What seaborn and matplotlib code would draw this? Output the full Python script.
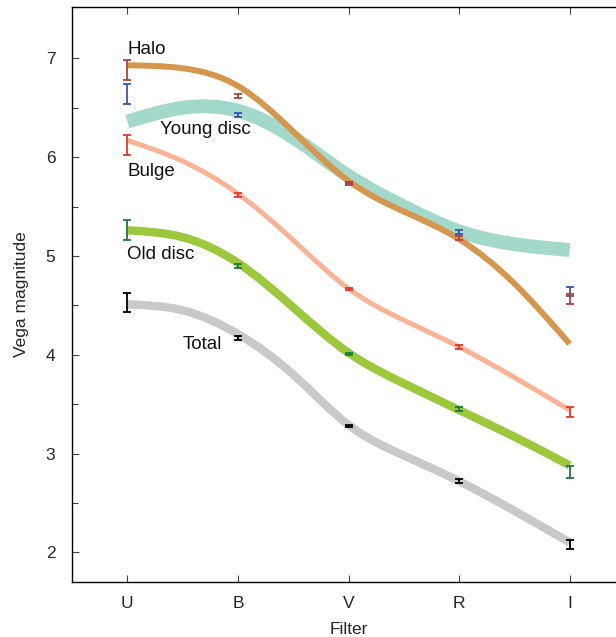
import numpy as np
import matplotlib
matplotlib.use("Agg")
import matplotlib.pyplot as plt
from matplotlib.path import Path
from matplotlib.patches import PathPatch
from matplotlib.ticker import FixedLocator
import seaborn as sns

# filters and positions
filters = ["U", "B", "V", "R", "I"]
filter_pos = [0, 1, 2, 3, 4]

# model curves read at half-filter steps
curve_pos = [0, 0.5, 1, 1.5, 2, 2.5, 3, 3.5, 4]
curve_young = [6.36, 6.50, 6.47, 6.20, 5.81, 5.50, 5.25, 5.12, 5.06]
curve_halo = [6.93, 6.90, 6.72, 6.26, 5.76, 5.45, 5.17, 4.72, 4.11]
curve_bulge = [6.17, 5.96, 5.63, 5.16, 4.67, 4.35, 4.08, 3.77, 3.44]
curve_old = [5.26, 5.19, 4.93, 4.48, 4.02, 3.71, 3.44, 3.17, 2.88]
curve_total = [4.51, 4.45, 4.21, 3.80, 3.29, 2.98, 2.72, 2.42, 2.10]

# measured magnitudes with errors
obs_young = [6.64, 6.43, 5.74, 5.24, 4.64]
obs_halo = [6.88, 6.62, 5.73, 5.18, 4.56]
obs_bulge = [6.12, 5.62, 4.67, 4.08, 3.42]
obs_old = [5.26, 4.90, 4.01, 3.45, 2.81]
obs_total = [4.53, 4.17, 3.28, 2.72, 2.08]
err_young = [0.10, 0.02, 0.01, 0.02, 0.05]
err_halo = [0.10, 0.02, 0.01, 0.02, 0.05]
err_bulge = [0.10, 0.02, 0.01, 0.02, 0.05]
err_old = [0.10, 0.02, 0.01, 0.02, 0.06]
err_total = [0.10, 0.02, 0.01, 0.02, 0.05]

sns.set_theme(style="ticks")
plt.rcParams['font.family'] = ['Liberation Sans', 'DejaVu Sans']


def smooth_path(xs, ys):
    # natural cubic spline through the points, drawn as Bezier segments
    xs = np.asarray(xs, float)
    ys = np.asarray(ys, float)
    n = len(xs)
    h = xs[1] - xs[0]
    A = np.zeros((n, n))
    b = np.zeros(n)
    A[0, 0], A[0, 1] = 2, 1
    b[0] = 3 * (ys[1] - ys[0]) / h
    A[-1, -2], A[-1, -1] = 1, 2
    b[-1] = 3 * (ys[-1] - ys[-2]) / h
    for i in range(1, n - 1):
        A[i, i - 1], A[i, i], A[i, i + 1] = 1, 4, 1
        b[i] = 3 * (ys[i + 1] - ys[i - 1]) / h
    m = np.linalg.solve(A, b)
    verts = [(xs[0], ys[0])]
    codes = [Path.MOVETO]
    for i in range(n - 1):
        verts += [(xs[i] + h / 3, ys[i] + m[i] * h / 3),
                  (xs[i + 1] - h / 3, ys[i + 1] - m[i + 1] * h / 3),
                  (xs[i + 1], ys[i + 1])]
        codes += [Path.CURVE4] * 3
    return Path(verts, codes)


fig = plt.figure(figsize=(6.16, 6.37), dpi=100)
ax = fig.add_axes([72 / 616, 55 / 637, 553 / 616, 575 / 637])

curves = [
    (curve_young, "#a2d9ca", 10),
    (curve_halo, "#d6964c", 4.3),
    (curve_bulge, "#fbb395", 3.6),
    (curve_old, "#9bc93b", 6),
    (curve_total, "#c9c9c9", 6),
]
for vals, col, lw in curves:
    ax.add_patch(PathPatch(smooth_path(curve_pos, vals), facecolor="none",
                           edgecolor=col, lw=lw, capstyle="butt", zorder=2))

points = [
    (obs_young, err_young, "#3b55b2"),
    (obs_halo, err_halo, "#b9403a"),
    (obs_bulge, err_bulge, "#ea3529"),
    (obs_old, err_old, "#1b7a42"),
    (obs_total, err_total, "black"),
]
for vals, errs, col in points:
    ax.errorbar(filter_pos, vals, yerr=errs, fmt="none", ecolor=col,
                elinewidth=1.3, capsize=2.8, capthick=1.3, zorder=3)

labels = [("Halo", 0.0, 7.09), ("Young disc", 0.30, 6.28), ("Bulge", 0.0, 5.86),
          ("Old disc", 0.0, 5.01), ("Total", 0.50, 4.10)]
for txt, x, y in labels:
    ax.text(x, y, txt, fontsize=13.5, ha="left", va="center", color="#111111")

ax.set_xlim(-0.5, 4.5)
ax.set_ylim(1.7, 7.52)
ax.set_xticks(filter_pos)
ax.set_xticklabels(filters)
ax.set_yticks([2, 3, 4, 5, 6, 7])
ax.yaxis.set_minor_locator(FixedLocator([2.5, 3.5, 4.5, 5.5, 6.5]))
ax.tick_params(axis="both", which="major", direction="in", length=5, width=0.8,
               labelsize=12.5, top=True, color="#444444")
ax.tick_params(axis="x", which="major", pad=10)
ax.tick_params(axis="y", which="major", pad=12)
ax.tick_params(axis="y", which="minor", direction="in", length=4, width=0.8,
               color="#444444")
for side in ["left", "bottom", "top"]:
    ax.spines[side].set_linewidth(1.0)
    ax.spines[side].set_color("black")
ax.spines["right"].set_visible(False)
ax.set_xlabel("Filter", fontsize=12.5, labelpad=8)
ax.set_ylabel("Vega magnitude", fontsize=12.5, labelpad=12)

fig.savefig("out.png", dpi=100)
